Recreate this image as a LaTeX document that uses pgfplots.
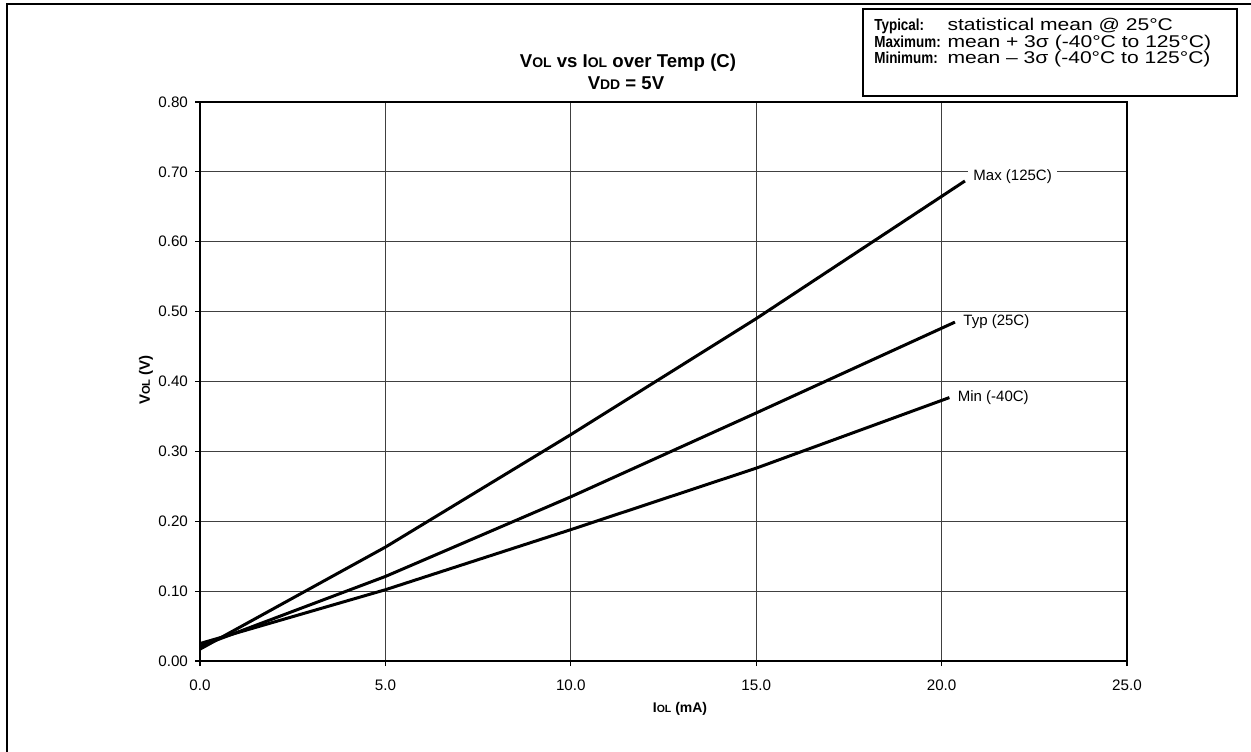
\documentclass[border=0pt]{standalone}
\usepackage{fontspec}
\setmainfont{Liberation Sans}
\usepackage{pgfplots}
\pgfplotsset{compat=1.18}
\newcommand{\sm}[1]{{\fontsize{0.75em}{1em}\selectfont #1}}
\begin{document}
\begin{tikzpicture}
\begin{axis}[
  at={(100pt,45pt)}, anchor=south west,
  scale only axis, width=463.5pt, height=279.5pt,
  xmin=0, xmax=25, ymin=0, ymax=0.8,
  xtick={0,5,10,15,20,25},
  ytick={0,0.1,0.2,0.3,0.4,0.5,0.6,0.7,0.8},
  /pgf/number format/assume math mode=true,
  xticklabel style={/pgf/number format/.cd,fixed,fixed zerofill,precision=1,/tikz/.cd, yshift=-3.5pt},
  yticklabel style={/pgf/number format/.cd,fixed,fixed zerofill,precision=2,/tikz/.cd},
  tick label style={font=\fontsize{7.6}{9}\selectfont},
  grid=major,
  major grid style={black!75, line width=0.5pt},
  axis line style={line width=1.3pt},
  tick style={black, line width=0.6pt},
  tick align=outside, tick pos=left, major tick length=2.5pt,
  clip=false,
]
\addplot[black, line width=1.5pt] coordinates {(0,0.017) (5,0.163) (10,0.324) (15,0.490) (20.63,0.687)}
  node[pos=1, anchor=west, xshift=1pt, yshift=2pt, fill=white, inner xsep=2.5pt, inner ysep=1pt, font=\fontsize{7.5}{9}\selectfont] {Max (125C)};
\addplot[black, line width=1.5pt] coordinates {(0,0.021) (5,0.121) (10,0.235) (15,0.355) (20.36,0.485)}
  node[pos=1, anchor=west, xshift=1pt, fill=white, inner xsep=2.5pt, inner ysep=1pt, font=\fontsize{7.5}{9}\selectfont] {Typ (25C)};
\addplot[black, line width=1.5pt] coordinates {(0,0.025) (5,0.102) (10,0.188) (15,0.276) (20.21,0.377)}
  node[pos=1, anchor=west, xshift=1pt, fill=white, inner xsep=2.5pt, inner ysep=1pt, font=\fontsize{7.5}{9}\selectfont] {Min (-40C)};
\end{axis}
% axis labels
\node[font=\bfseries\fontsize{7.5}{9}\selectfont, rotate=90] at (73pt,185.5pt) {V\sm{OL} (V)};
\node[font=\bfseries\fontsize{7}{9}\selectfont] at (340pt,21pt) {I\sm{OL} (mA)};
% title
\node[font=\bfseries\fontsize{9.3}{11}\selectfont, anchor=base] at (314pt,341.5pt) {V\sm{OL} vs I\sm{OL} over Temp (C)};
\node[font=\bfseries\fontsize{9.3}{11}\selectfont, anchor=base] at (313pt,330.5pt) {V\sm{DD} = 5V};
% legend box
\draw[line width=1pt] (431.5pt,327.5pt) rectangle (618.5pt,371pt);
\begin{scope}[every node/.style={anchor=base west, inner sep=0pt}]
\node[font=\bfseries\fontsize{8}{9}\selectfont, xscale=0.84] at (437pt,360pt) {Typical:};
\node[font=\bfseries\fontsize{8}{9}\selectfont, xscale=0.84] at (437pt,351.8pt) {Maximum:};
\node[font=\bfseries\fontsize{8}{9}\selectfont, xscale=0.84] at (437pt,343.8pt) {Minimum:};
\node[font=\fontsize{8.5}{10}\selectfont, xscale=1.24] at (473.5pt,360pt) {statistical mean @ 25°C};
\node[font=\fontsize{8.5}{10}\selectfont, xscale=1.24] at (473.5pt,351.8pt) {mean + 3σ (-40°C to 125°C)};
\node[font=\fontsize{8.5}{10}\selectfont, xscale=1.24] at (473.5pt,343.8pt) {mean – 3σ (-40°C to 125°C)};
\end{scope}
% outer frame
\draw[line width=1pt] (3.25pt,-5pt) -- (3.25pt,373.5pt) -- (635pt,373.5pt);
\pgfresetboundingbox
\path (0,0) rectangle (625.5pt,375.5pt);
\end{tikzpicture}
\end{document}
